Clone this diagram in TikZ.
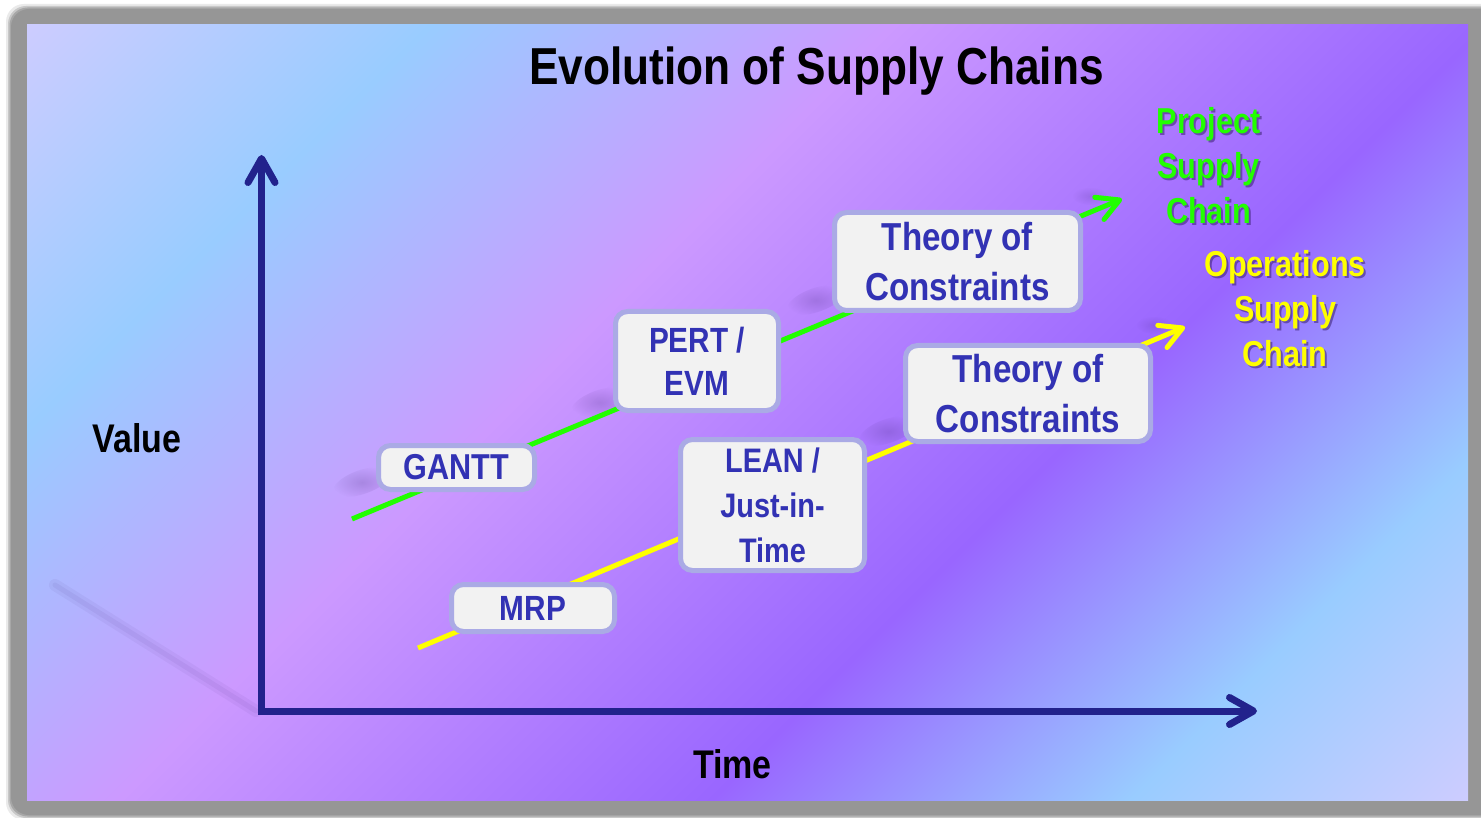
\documentclass[tikz,border=0pt]{standalone}
\usepackage{fontspec}
\setmainfont{Liberation Sans}
\newfontfamily\narrowsans[FakeStretch=0.85]{Liberation Sans}
\usetikzlibrary{arrows.meta,fadings}

\definecolor{bgA}{HTML}{CCCCFF}
\definecolor{bgB}{HTML}{99CCFF}
\definecolor{bgC}{HTML}{CC99FF}
\definecolor{bgD}{HTML}{9966FF}
\definecolor{framegray}{HTML}{969696}
\definecolor{axisblue}{HTML}{22228C}
\definecolor{boxfill}{HTML}{F2F2F2}
\definecolor{boxedge}{HTML}{AAAAE5}
\definecolor{boxtext}{HTML}{3232B4}
\definecolor{projgreen}{HTML}{22FF00}
\definecolor{opsyellow}{HTML}{FFFF00}
\definecolor{shadowink}{HTML}{3A2070}

% diagonal background: lavender, sky blue, orchid, violet, sky blue, lavender
\pgfdeclarehorizontalshading{slidebg}{100bp}{%
  color(0bp)=(bgA); color(14.64bp)=(bgA); color(27.37bp)=(bgB);
  color(42.22bp)=(bgC); color(61.3bp)=(bgD); color(74.7bp)=(bgB);
  color(85.36bp)=(bgA); color(100bp)=(bgA)}

% soft round spot for cast shadows
\tikzfading[name=softspot, inner color=transparent!0, outer color=transparent!100]

\tikzset{
  stage/.style={draw=boxedge, line width=5pt, fill=boxfill, rounded corners=12pt,
    text=boxtext, align=center, inner sep=0pt},
  stagefont/.style n args={2}{font=\narrowsans\bfseries\fontsize{#1}{#2}\selectfont},
  trend/.style={line width=5pt, -{Straight Barb[length=22pt, width=24pt, round]}},
  axisline/.style={draw=axisblue, line width=7pt, line join=miter,
    {Straight Barb[length=24pt, width=27pt, round]}-{Straight Barb[length=24pt, width=27pt, round]}},
  chainlabel/.style={align=center, inner sep=0pt,
    font=\narrowsans\bfseries\fontsize{36}{45}\selectfont},
  axislabel/.style={anchor=base, inner sep=0pt,
    font=\narrowsans\bfseries\fontsize{40}{48}\selectfont},
  smudge/.style={fill=shadowink, opacity=0.2, path fading=softspot},
}

\begin{document}
\begin{tikzpicture}[x=1pt, y=-1pt]
\useasboundingbox (0,0) rectangle (1481,818);
\fill[white] (0,0) rectangle (1481,818);

% soft grey frame around the slide
\foreach \d/\o in {5/0.2, 3/0.4, 1.5/0.65, 0/1}{
  \fill[framegray, opacity=\o, rounded corners=18pt] (11-\d,9-\d) rectangle (1500,815+\d);
}

% slide background
\shade[shading=slidebg, shading angle=-45] (27,25) rectangle (1468,800);

% faint cast shadows
\draw[shadowink, opacity=0.05, line width=12pt, line cap=round] (55,585) -- (256,711);
\draw[shadowink, opacity=0.06, line width=5pt, line cap=round] (55,585) -- (256,711);
\fill[smudge, rotate around={19:(362,482)}] (362,482) ellipse [x radius=30, y radius=12];
\fill[smudge, rotate around={19:(600,402)}] (600,402) ellipse [x radius=30, y radius=12];
\fill[smudge, rotate around={19:(816,300)}] (816,300) ellipse [x radius=30, y radius=12];
\fill[smudge, rotate around={19:(888,431)}] (888,431) ellipse [x radius=30, y radius=12];
\fill[smudge, opacity=0.15] (1090,196) ellipse [x radius=18, y radius=9];
\fill[smudge, opacity=0.15] (1154,325) ellipse [x radius=18, y radius=9];

% title
\node[anchor=base, inner sep=0pt, font=\narrowsans\bfseries\fontsize{52}{60}\selectfont]
  (title) at (816.5,85) {Evolution of Supply Chains};

% axes
\coordinate (origin) at (261.5,711);
\coordinate (ytip) at (261.5,155);
\coordinate (xtip) at (1257,711);
\draw[axisline] (ytip) -- (origin) -- (xtip);
\node[axislabel] (value) at (137,452) {Value};
\node[axislabel] (time) at (732.5,778) {Time};

% the two evolution lines
\coordinate (pstart) at (352,519);
\coordinate (ptip) at (1122,199);
\coordinate (ostart) at (418,648);
\coordinate (otip) at (1185,327);
\draw[trend, projgreen] (pstart) -- (ptip);
\draw[trend, opsyellow] (ostart) -- (otip);

% stages along the project supply chain
\node[stage, stagefont={36}{46}, minimum width=156pt, minimum height=44pt] (gantt) at (456.5,467.5) {GANTT};
\node[stage, stagefont={35}{43}, minimum width=163pt, minimum height=99pt] (pert) at (697,361) {PERT /\\EVM};
\node[stage, stagefont={39}{50}, minimum width=246pt, minimum height=98pt] (tocp) at (957.5,261.5) {Theory of\\Constraints};

% stages along the operations supply chain
\node[stage, stagefont={35}{45}, minimum width=163pt, minimum height=47pt] (mrp) at (533,608) {MRP};
\node[stage, stagefont={34}{45}, minimum width=184pt, minimum height=131pt] (lean) at (772.5,505) {LEAN /\\Just-in-\\Time};
\node[stage, stagefont={39}{50}, minimum width=245pt, minimum height=96pt] (toco) at (1028,393.5) {Theory of\\Constraints};

% chain labels with drop shadow
\node[chainlabel, text=shadowink, opacity=0.55] (projshadow) at (1210.5,168) {Project\\Supply\\Chain};
\node[chainlabel, text=projgreen] (proj) at (1208.5,166) {Project\\Supply\\Chain};
\node[chainlabel, text=shadowink, opacity=0.55] (opsshadow) at (1287,311) {Operations\\Supply\\Chain};
\node[chainlabel, text=opsyellow] (ops) at (1285,309) {Operations\\Supply\\Chain};
\end{tikzpicture}
\end{document}
